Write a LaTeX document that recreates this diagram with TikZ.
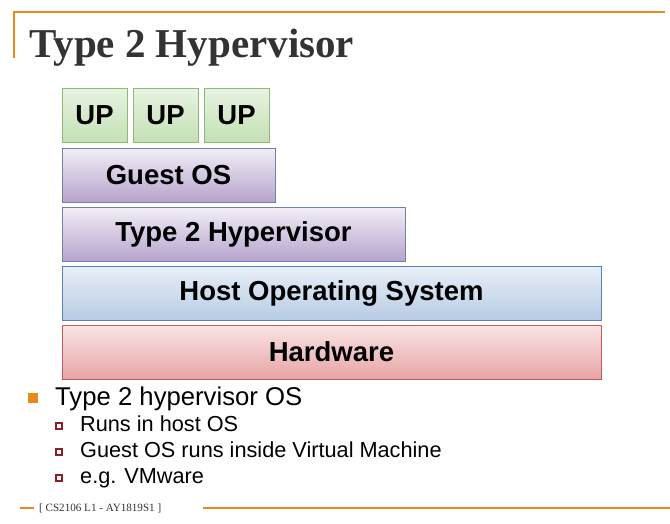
\documentclass[tikz,border=0pt]{standalone}
\usepackage{fontspec}
\setmainfont{Liberation Sans}
\newfontfamily\titlefont{Liberation Serif}
\usepackage{xcolor}
\definecolor{hvorange}{RGB}{232, 137, 28}
\definecolor{hvtitle}{RGB}{51, 51, 51}
\definecolor{hvgreentop}{RGB}{232, 243, 226}
\definecolor{hvgreenbot}{RGB}{196, 224, 180}
\definecolor{hvgreenline}{RGB}{140, 186, 120}
\definecolor{hvpurtop}{RGB}{242, 238, 246}
\definecolor{hvpurbot}{RGB}{182, 164, 204}
\definecolor{hvpurline}{RGB}{110, 130, 170}
\definecolor{hvbluetop}{RGB}{232, 239, 247}
\definecolor{hvbluebot}{RGB}{184, 204, 228}
\definecolor{hvblueline}{RGB}{90, 130, 180}
\definecolor{hvredtop}{RGB}{249, 228, 228}
\definecolor{hvredbot}{RGB}{232, 164, 166}
\definecolor{hvredline}{RGB}{196, 90, 90}
\definecolor{hvsubbox}{RGB}{140, 30, 40}

\begin{document}
\begin{tikzpicture}[
  x=1pt, y=-1pt,
  layer/.style={rectangle, anchor=north west, inner sep=0pt, outer sep=0pt,
                minimum height=54pt, line width=1pt,
                font=\fontsize{27.5}{29}\selectfont\bfseries, text=black},
  upbox/.style={layer, minimum width=65pt, draw=hvgreenline,
                top color=hvgreentop, bottom color=hvgreenbot},
  guestbox/.style={layer, draw=hvpurline,
                   top color=hvpurtop, bottom color=hvpurbot},
  hostbox/.style={layer, draw=hvblueline,
                  top color=hvbluetop, bottom color=hvbluebot},
  hwbox/.style={layer, draw=hvredline,
                top color=hvredtop, bottom color=hvredbot},
  mainitem/.style={anchor=base west, inner sep=0pt, font=\fontsize{25.7}{27}\selectfont},
  subitem/.style={anchor=base west, inner sep=0pt, font=\fontsize{21.7}{23}\selectfont},
  mainmark/.style={fill=hvorange, minimum size=10pt, inner sep=0pt},
  submark/.style={draw=hvsubbox, fill=white, line width=1.3pt, minimum size=6pt, inner sep=0pt},
  rule/.style={hvorange, line width=1.2pt}
]
\useasboundingbox (0,0) rectangle (670,523);

% Slide frame and title
\coordinate (frametl) at (14,12);
\coordinate (frametr) at (665,12);
\coordinate (framebl) at (14,58);
\draw[rule] (framebl) -- (frametl) -- (frametr);
\node[anchor=base west, inner sep=0pt, text=hvtitle,
      font=\titlefont\bfseries\fontsize{41}{44}\selectfont] (title) at (29,57) {Type 2 Hypervisor};

% Layer stack
\node[upbox] (up1) at (62,88)  {UP};
\node[upbox] (up2) at (133,88) {UP};
\node[upbox] (up3) at (204,88) {UP};
\node[guestbox, minimum width=213pt] (guest) at (62,148) {Guest OS};
\node[guestbox, minimum width=343pt] (hyp)   at (62,207) {Type 2 Hypervisor};
\node[hostbox, minimum width=539pt]  (host)  at (62,266) {Host Operating System};
\node[hwbox, minimum width=539pt]    (hw)    at (62,325) {Hardware};

% Bullets
\node[mainmark] (m1) at (33,398) {};
\node[mainitem] (t1) at (55,405) {Type 2 hypervisor OS};
\node[submark] (s1) at (59,426) {};
\node[subitem]  (u1) at (80,431) {Runs in host OS};
\node[submark] (s2) at (59,452) {};
\node[subitem]  (u2) at (80,457) {Guest OS runs inside Virtual Machine};
\node[submark] (s3) at (59,478) {};
\node[subitem]  (u3) at (80,483) {e.g. VMware};

% Footer
\node[anchor=west, inner sep=0pt, text=hvtitle,
      font=\titlefont\fontsize{11.1}{13}\selectfont] (foot) at (39,508) {[ CS2106 L1 - AY1819S1 ]};
\coordinate (footl) at (20,508);
\coordinate (footr) at (670,508);
\draw[rule] (footl) -- (foot.west -| 34,0);
\draw[rule] (203,508) -- (footr);
\end{tikzpicture}
\end{document}
